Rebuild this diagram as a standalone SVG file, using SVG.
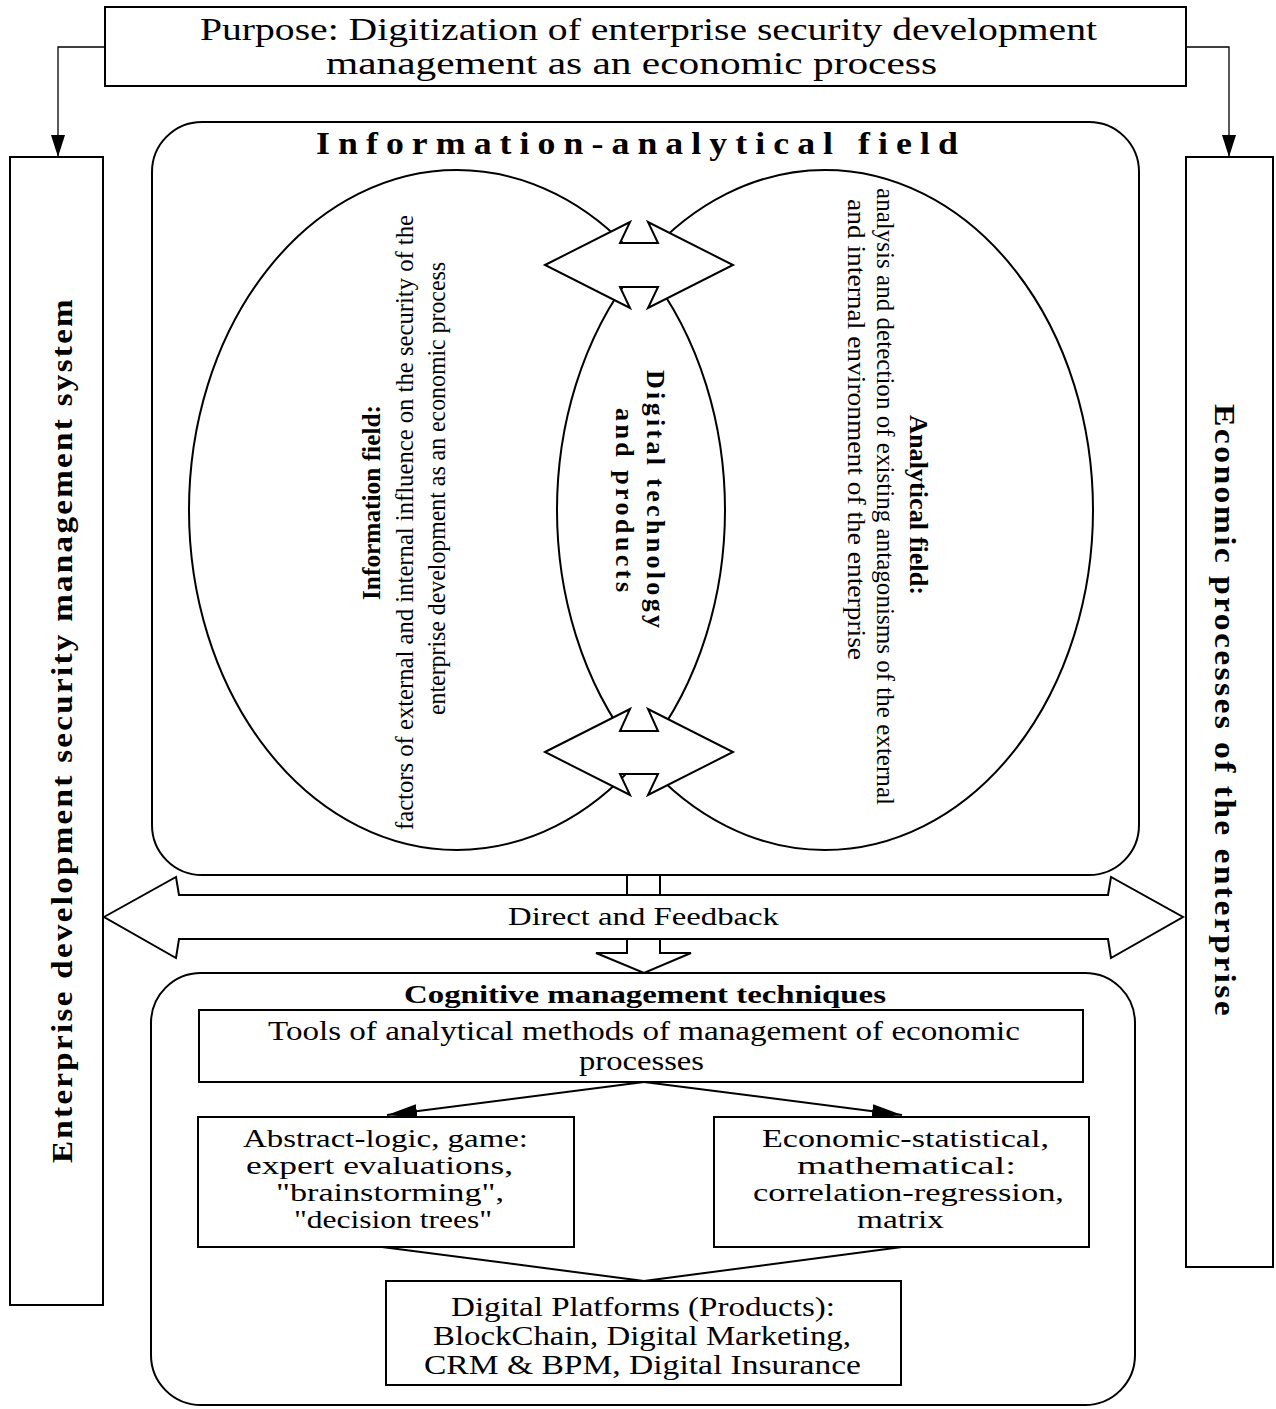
<svg xmlns="http://www.w3.org/2000/svg" width="1276" height="1409" viewBox="0 0 1276 1409">
<style>
.box{fill:#fff;stroke:#000;stroke-width:2}
.el{fill:none;stroke:#000;stroke-width:2}
.t{font-family:"Liberation Serif","Times New Roman",serif;fill:#000}
.b{font-weight:bold}
.ln{fill:none;stroke:#000;stroke-width:2}
.thin{fill:none;stroke:#000;stroke-width:1.3}
.blk{fill:#fff;stroke:#000;stroke-width:2;stroke-linejoin:miter}
</style>
<defs>
<marker id="ah" viewBox="0 0 30 14" refX="30" refY="7" markerWidth="30" markerHeight="14" markerUnits="userSpaceOnUse" orient="auto"><path d="M0,0 L30,7 L0,14 z" fill="#000"/></marker>
<marker id="ahs" viewBox="0 0 22 14" refX="22" refY="7" markerWidth="22" markerHeight="14" markerUnits="userSpaceOnUse" orient="auto"><path d="M0,0 L22,7 L0,14 z" fill="#000"/></marker>
</defs>
<rect width="1276" height="1409" fill="#fff"/>

<g id="purpose">
<rect class="box" x="105" y="7" width="1081" height="79"/>
<text class="t" x="200" y="40" font-size="32" textLength="897" lengthAdjust="spacingAndGlyphs">Purpose: Digitization of enterprise security development</text>
<text class="t" x="326" y="74" font-size="32" textLength="611" lengthAdjust="spacingAndGlyphs">management as an economic process</text>
</g>

<g id="management-system">
<rect class="box" x="10" y="157" width="93" height="1148"/>
<text class="t b" transform="translate(72,1163) rotate(-90)" font-size="29" letter-spacing="2" textLength="866" lengthAdjust="spacingAndGlyphs">Enterprise development security management system</text>
</g>

<g id="economic-processes">
<rect class="box" x="1186" y="157" width="87" height="1110"/>
<text class="t b" transform="translate(1215,404) rotate(90)" font-size="29" letter-spacing="2" textLength="614" lengthAdjust="spacingAndGlyphs">Economic processes of the enterprise</text>
</g>

<g id="information-analytical-field">
<rect class="box" x="152" y="122" width="987" height="753" rx="50" ry="50"/>
<text class="t b" x="316" y="154" font-size="31" letter-spacing="7" textLength="650" lengthAdjust="spacingAndGlyphs">Information-analytical field</text>
</g>

<g id="information-field">
<ellipse class="el" cx="457" cy="510" rx="268" ry="340"/>
<text class="t b" transform="translate(380,600) rotate(-90)" font-size="25" textLength="195" lengthAdjust="spacingAndGlyphs">Information field:</text>
<text class="t" transform="translate(413,830) rotate(-90)" font-size="25" textLength="615" lengthAdjust="spacingAndGlyphs">factors of external and internal influence on the security of the</text>
<text class="t" transform="translate(445,715) rotate(-90)" font-size="25" textLength="453" lengthAdjust="spacingAndGlyphs">enterprise development as an economic process</text>
</g>

<g id="analytical-field">
<ellipse class="el" cx="825" cy="510" rx="268" ry="340"/>
<text class="t b" transform="translate(910,415) rotate(90)" font-size="25" textLength="180" lengthAdjust="spacingAndGlyphs">Analytical field:</text>
<text class="t" transform="translate(877,188) rotate(90)" font-size="25" textLength="617" lengthAdjust="spacingAndGlyphs">analysis and detection of existing antagonisms of the external</text>
<text class="t" transform="translate(848,199) rotate(90)" font-size="25" textLength="461" lengthAdjust="spacingAndGlyphs">and internal environment of the enterprise</text>
</g>

<g id="digital-technology">
<text class="t b" transform="translate(647,370) rotate(90)" font-size="26" textLength="258" lengthAdjust="spacing">Digital technology</text>
<text class="t b" transform="translate(616,408) rotate(90)" font-size="26" textLength="184" lengthAdjust="spacing">and products</text>
</g>

<g id="cognitive-management">
<rect class="box" x="151" y="973" width="984" height="432" rx="50" ry="50"/>
<text class="t b" x="404" y="1003" font-size="25" textLength="482" lengthAdjust="spacingAndGlyphs">Cognitive management techniques</text>
</g>

<g id="tools">
<rect class="box" x="199" y="1010" width="884" height="72"/>
<text class="t" x="268" y="1040" font-size="28" textLength="752" lengthAdjust="spacingAndGlyphs">Tools of analytical methods of management of economic</text>
<text class="t" x="579" y="1070" font-size="28" textLength="125" lengthAdjust="spacingAndGlyphs">processes</text>
</g>

<g id="abstract-logic">
<rect class="box" x="198" y="1117" width="376" height="130"/>
<text class="t" x="243" y="1147" font-size="25" textLength="285" lengthAdjust="spacingAndGlyphs">Abstract-logic, game:</text>
<text class="t" x="246" y="1174" font-size="25" textLength="267" lengthAdjust="spacingAndGlyphs">expert evaluations,</text>
<text class="t" x="276" y="1201" font-size="25" textLength="228" lengthAdjust="spacingAndGlyphs">"brainstorming",</text>
<text class="t" x="294" y="1228" font-size="25" textLength="198" lengthAdjust="spacingAndGlyphs">"decision trees"</text>
</g>

<g id="economic-statistical">
<rect class="box" x="714" y="1117" width="375" height="130"/>
<text class="t" x="762" y="1147" font-size="25" textLength="287" lengthAdjust="spacingAndGlyphs">Economic-statistical,</text>
<text class="t" x="797" y="1174" font-size="25" textLength="219" lengthAdjust="spacingAndGlyphs">mathematical:</text>
<text class="t" x="753" y="1201" font-size="25" textLength="311" lengthAdjust="spacingAndGlyphs">correlation-regression,</text>
<text class="t" x="857" y="1228" font-size="25" textLength="87" lengthAdjust="spacingAndGlyphs">matrix</text>
</g>

<g id="digital-platforms">
<rect class="box" x="386" y="1281" width="515" height="104"/>
<text class="t" x="451" y="1316" font-size="27" textLength="384" lengthAdjust="spacingAndGlyphs">Digital Platforms (Products):</text>
<text class="t" x="433" y="1345" font-size="27" textLength="418" lengthAdjust="spacingAndGlyphs">BlockChain, Digital Marketing,</text>
<text class="t" x="424" y="1374" font-size="27" textLength="437" lengthAdjust="spacingAndGlyphs">CRM &amp; BPM, Digital Insurance</text>
</g>

<g id="connectors">
<path class="thin" d="M105,47 H58 V157" marker-end="url(#ahs)"/>
<path class="thin" d="M1186,47 H1229 V157" marker-end="url(#ahs)"/>
<polygon class="blk" points="545,265 630,222 620,243 658,243 648,222 733,265 648,308 658,287 620,287 630,308"/>
<polygon class="blk" points="545,752 630,709 620,731 658,731 648,709 733,752 648,795 658,774 620,774 630,795"/>
<polygon class="blk" points="627,875 660,875 660,953 691,953 644,973 596,953 627,953"/>
<polygon class="blk" points="104,917 176,877 179,895 1108,895 1111,877 1183,917 1111,958 1108,939 179,939 176,958"/>
<text class="t" x="508" y="925" font-size="25" textLength="271" lengthAdjust="spacingAndGlyphs">Direct and Feedback</text>
<line class="ln" x1="644" y1="1082" x2="387" y2="1115" marker-end="url(#ah)"/>
<line class="ln" x1="644" y1="1082" x2="902" y2="1115" marker-end="url(#ah)"/>
<line class="ln" x1="382" y1="1247" x2="644" y2="1281"/>
<line class="ln" x1="902" y1="1247" x2="644" y2="1281"/>
</g>
</svg>
